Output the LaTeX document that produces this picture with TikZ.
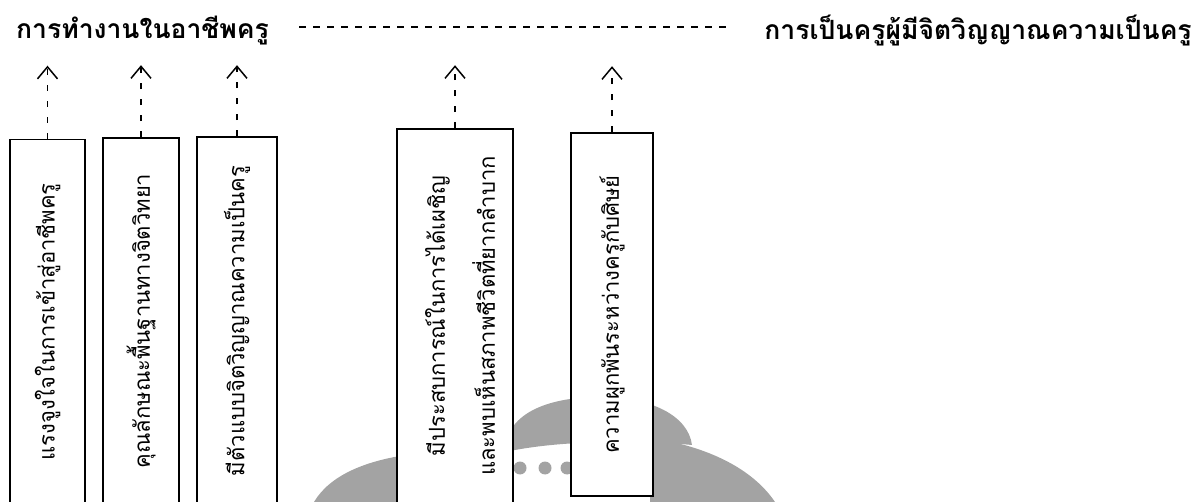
\documentclass[tikz,border=0pt]{standalone}
\usepackage{fontspec}
\newfontfamily\thai[Script=Thai]{Loma}
\usetikzlibrary{arrows.meta}
\begin{document}
\begin{tikzpicture}[x=1pt,y=-1pt,
  box/.style={draw=black, line width=1.6pt, fill=white, minimum width=#1, inner sep=0pt},
  lbl/.style={rotate=90, font=\thai\fontsize{22}{50}\selectfont, align=center, inner sep=0pt},
  ttl/.style={font=\thai\bfseries\fontsize{26.5}{30}\selectfont, inner sep=0pt},
  up/.style={line width=1.5pt, dash pattern=on 6pt off 10pt, -{Straight Barb[length=12pt,width=20pt,line width=1.5pt]}},
  wm/.style={fill=black!36, draw=none}
]
\useasboundingbox (0,0) rectangle (1197,502);
% faint watermark
\fill[wm] (314,502) .. controls (330,475) and (365,462) .. (400,456) -- (400,502) -- cycle;
\fill[wm] (505,452) .. controls (505,415) and (545,397) .. (600,397) .. controls (650,397) and (688,415) .. (692,445) .. controls (640,440) and (560,440) .. (505,452) -- cycle;
\fill[wm] (650,438) .. controls (700,445) and (750,465) .. (775,502) -- (650,502) -- cycle;
\foreach \dx in {520,545,567} \fill[wm] (\dx,468) circle (6.5pt);
% titles
\node[ttl] (t1) at (142.5,31) {การทำงานในอาชีพครู};
\node[ttl] (t2) at (978,31) {การเป็นครูผู้มีจิตวิญญาณความเป็นครู};
\path (t1.east) ++(30pt,4pt) coordinate (l1);
\path (t2.west) ++(-35pt,4pt) coordinate (l2);
\draw[line width=1.5pt, dash pattern=on 7pt off 7pt] (l1) -- (l2);
% boxes
\node[box=75pt, minimum height=365pt] (b1) at (47.5,322) {};
\node[box=76pt, minimum height=366pt] (b2) at (141,321) {};
\node[box=80pt, minimum height=368pt] (b3) at (237,321) {};
\node[box=116pt, minimum height=374pt] (b4) at (455,316) {};
\node[box=82pt, minimum height=363pt] (b5) at (612,314.5) {};
% labels
\node[lbl] (x1) at (b1.center) {แรงจูงใจในการเข้าสู่อาชีพครู};
\node[lbl] (x2) at (b2.center) {คุณลักษณะพื้นฐานทางจิตวิทยา};
\node[lbl] (x3) at (b3.center) {มีตัวแบบจิตวิญญาณความเป็นครู};
\node[lbl] (x4) at ([xshift=5pt]b4.center) {มีประสบการณ์ในการได้เผชิญ\\และพบเห็นสภาพชีวิตที่ยากลำบาก};
\node[lbl] (x5) at (b5.center) {ความผูกพันระหว่างครูกับศิษย์};
% arrows
\path (b1.north) ++(0,-73) coordinate (a1);
\path (b2.north) ++(0,-72) coordinate (a2);
\path (b3.north) ++(0,-71) coordinate (a3);
\path (b4.north) ++(0,-63) coordinate (a4);
\path (b5.north) ++(0,-66) coordinate (a5);
\foreach \b/\a in {b1/a1,b2/a2,b3/a3,b4/a4,b5/a5} \draw[up] (\b.north) -- (\a);
\end{tikzpicture}
\end{document}
